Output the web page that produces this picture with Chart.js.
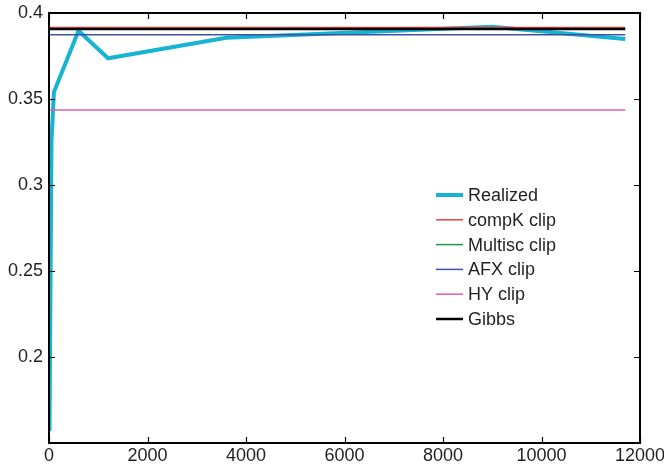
<!DOCTYPE html>
<html>
<head>
<meta charset="utf-8">
<script src="https://cdn.jsdelivr.net/npm/chart.js@4.4.1/dist/chart.umd.min.js"></script>
<style>
  html, body { margin: 0; padding: 0; background: #fff; overflow: hidden; }
  #wrap { width: 664px; height: 467px; }
</style>
</head>
<body>
<div id="wrap"><canvas id="myChart"></canvas></div>
<script>
(function () {
  'use strict';

  // sample counts and realized value
  var xValues = [10, 50, 100, 600, 1200, 3600, 9000, 11700];
  var realized = [0.157, 0.325, 0.354, 0.3897, 0.3737, 0.3856, 0.392, 0.3849];

  // constant reference levels, drawn from x = 0 to the last sample
  var lineX = [0, 11700];
  var compK = [0.3915, 0.3915];
  var multisc = [0.3907, 0.3907];
  var afx = [0.3874, 0.3874];
  var hy = [0.3436, 0.3436];
  var gibbs = [0.3907, 0.3907];

  var xTicks = [0, 2000, 4000, 6000, 8000, 10000, 12000];
  var yTicks = [0.2, 0.25, 0.3, 0.35, 0.4];

  function pts(xs, ys) {
    return xs.map(function (x, i) { return { x: x, y: ys[i] }; });
  }

  var font = { family: '"Liberation Sans", Arial, sans-serif', size: 18 };

  var boxPlugin = {
    id: 'box',
    afterDraw: function (chart) {
      var ctx = chart.ctx;
      var a = chart.chartArea;
      var xs = chart.scales.x;
      var ys = chart.scales.y;
      ctx.save();
      ctx.strokeStyle = '#000';
      ctx.lineWidth = 1.2;
      ctx.beginPath();
      xTicks.forEach(function (v) {
        var px = Math.round(xs.getPixelForValue(v)) + 0.5;
        ctx.moveTo(px, a.bottom); ctx.lineTo(px, a.bottom - 6);
        ctx.moveTo(px, a.top); ctx.lineTo(px, a.top + 6);
      });
      yTicks.forEach(function (v) {
        var py = Math.round(ys.getPixelForValue(v)) + 0.5;
        ctx.moveTo(a.left, py); ctx.lineTo(a.left + 6, py);
        ctx.moveTo(a.right, py); ctx.lineTo(a.right - 6, py);
      });
      ctx.stroke();
      ctx.lineWidth = 2;
      ctx.strokeRect(a.left, a.top, a.right - a.left, a.bottom - a.top);

      // legend inside the axes
      var lx = 436, ly = 195, step = 24.8;
      ctx.font = font.size + 'px ' + font.family;
      ctx.textBaseline = 'middle';
      ctx.textAlign = 'left';
      chart.data.datasets.forEach(function (ds, i) {
        var y = ly + i * step;
        ctx.strokeStyle = ds.borderColor;
        ctx.lineWidth = ds.borderWidth;
        ctx.beginPath();
        ctx.moveTo(lx, y); ctx.lineTo(lx + 27, y);
        ctx.stroke();
        ctx.fillStyle = '#231f20';
        ctx.fillText(ds.label, lx + 32, y + 1);
      });
      ctx.restore();
    }
  };

  var ctx = document.getElementById('myChart').getContext('2d');
  var myChart = new Chart(ctx, {
    type: 'line',
    data: {
      datasets: [
        { label: 'Realized', data: pts(xValues, realized), borderColor: '#17b3d3', borderWidth: 4, order: 10 },
        { label: 'compK clip', data: pts(lineX, compK), borderColor: '#e8423f', borderWidth: 1.5, order: 5 },
        { label: 'Multisc clip', data: pts(lineX, multisc), borderColor: '#1a9a4f', borderWidth: 1.5, order: 4 },
        { label: 'AFX clip', data: pts(lineX, afx), borderColor: '#3e53a4', borderWidth: 1.5, order: 3 },
        { label: 'HY clip', data: pts(lineX, hy), borderColor: '#e05cae', borderWidth: 1.5, order: 2 },
        { label: 'Gibbs', data: pts(lineX, gibbs), borderColor: '#000000', borderWidth: 2.5, order: 1 }
      ]
    },
    options: {
      responsive: true,
      maintainAspectRatio: false,
      animation: false,
      layout: { padding: { left: 0, right: 24, top: 13, bottom: 0 } },
      elements: { point: { radius: 0 }, line: { tension: 0, fill: false } },
      plugins: { legend: { display: false }, tooltip: { enabled: false } },
      scales: {
        x: {
          type: 'linear', min: 0, max: 12000,
          afterBuildTicks: function (s) { s.ticks = xTicks.map(function (v) { return { value: v }; }); },
          afterFit: function (s) { s.height = 24; s.paddingLeft = 0; s.paddingRight = 0; },
          grid: { display: false, drawTicks: false }, border: { display: false },
          ticks: {
            font: font, color: '#231f20', padding: 2, maxRotation: 0, autoSkip: false,
            callback: function (v) { return String(v); }
          }
        },
        y: {
          type: 'linear', min: 0.15, max: 0.4,
          afterBuildTicks: function (s) { s.ticks = yTicks.map(function (v) { return { value: v }; }); },
          afterFit: function (s) { s.width = 49; s.paddingTop = 0; s.paddingBottom = 0; },
          grid: { display: false, drawTicks: false }, border: { display: false },
          ticks: {
            font: font, color: '#231f20', padding: 6, autoSkip: false,
            callback: function (v) { return String(Math.round(v * 100) / 100); }
          }
        }
      }
    },
    plugins: [boxPlugin]
  });
})();
</script>
</body>
</html>
